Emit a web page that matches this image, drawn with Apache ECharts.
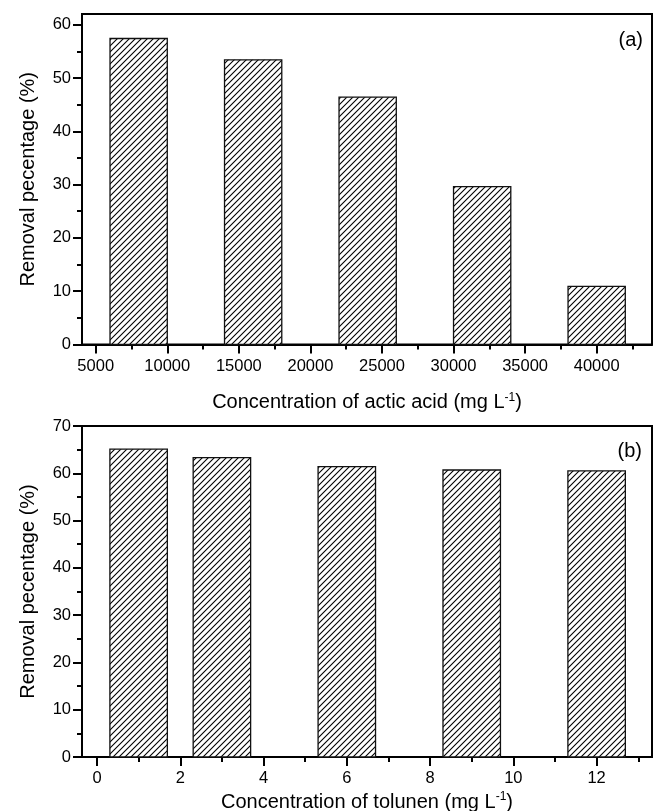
<!DOCTYPE html>
<html>
<head>
<meta charset="utf-8">
<script src="https://cdn.jsdelivr.net/npm/echarts@6/dist/echarts.min.js"></script>
<style>
  html, body { margin: 0; padding: 0; background: #fff; }
  #main { width: 653px; height: 811px; }
</style>
</head>
<body>
<div id="main"></div>
<script>
// (a) acetic acid
var acidConc = [8000, 16000, 24000, 32000, 40000];
var acidRemoval = [57.4, 53.4, 46.4, 29.6, 10.9];
var acidXTicks = [5000, 10000, 15000, 20000, 25000, 30000, 35000, 40000];
var acidXMinor = [7500, 12500, 17500, 22500, 27500, 32500, 37500, 42500];
var acidYTicks = [0, 10, 20, 30, 40, 50, 60];
var acidYMinor = [5, 15, 25, 35, 45, 55];

// (b) toluene
var tolConc = [1, 3, 6, 9, 12];
var tolRemoval = [65.1, 63.3, 61.4, 60.7, 60.5];
var tolXTicks = [0, 2, 4, 6, 8, 10, 12];
var tolXMinor = [1, 3, 5, 7, 9, 11, 13];
var tolYTicks = [0, 10, 20, 30, 40, 50, 60, 70];
var tolYMinor = [5, 15, 25, 35, 45, 55, 65];

var FONT = "'Liberation Sans', Arial, sans-serif";

// hatch pattern  ////
function makeHatch() {
    var s = 6;
    var c = document.createElement('canvas');
    c.width = s; c.height = s;
    var ctx = c.getContext('2d');
    ctx.fillStyle = '#fff';
    ctx.fillRect(0, 0, s, s);
    ctx.strokeStyle = '#000';
    ctx.lineWidth = 1.1;
    ctx.beginPath();
    ctx.moveTo(-1, s + 1); ctx.lineTo(s + 1, -1);
    ctx.moveTo(-1, 1); ctx.lineTo(1, -1);
    ctx.moveTo(s - 1, s + 1); ctx.lineTo(s + 1, s - 1);
    ctx.stroke();
    return c;
}
var hatch = { image: makeHatch(), repeat: 'repeat' };

function barRenderer(barW) {
    return function (params, api) {
        var x = api.value(0), y = api.value(1);
        var p0 = api.coord([x - barW / 2, y]);
        var p1 = api.coord([x + barW / 2, 0]);
        return {
            type: 'rect',
            shape: { x: p0[0], y: p0[1], width: p1[0] - p0[0], height: p1[1] - p0[1] },
            style: { fill: hatch, stroke: '#111', lineWidth: 1.3 }
        };
    };
}

function pairs(xs, ys) {
    return xs.map(function (v, i) { return [v, ys[i]]; });
}
function plain(v) { return String(v); }

var nameStyle = {
    fontFamily: FONT, fontSize: 20, color: '#000',
    rich: { sup: { fontFamily: FONT, fontSize: 12, color: '#000', verticalAlign: 'top', lineHeight: 22 } }
};
var lineStyle = { color: '#000', width: 2 };

function majorX(grid, min, max, ticks, name, gap) {
    return {
        type: 'value', gridIndex: grid, position: 'bottom', min: min, max: max,
        name: name, nameLocation: 'middle', nameGap: gap, nameTextStyle: nameStyle,
        axisLine: { show: true, onZero: false, lineStyle: lineStyle },
        axisTick: { show: true, inside: false, length: 9, lineStyle: lineStyle, customValues: ticks },
        axisLabel: { show: true, margin: 13, customValues: ticks, formatter: plain,
                     fontFamily: FONT, fontSize: 16.5, color: '#000' },
        splitLine: { show: false }
    };
}
function minorX(grid, min, max, ticks) {
    return {
        type: 'value', gridIndex: grid, position: 'bottom', min: min, max: max,
        axisLine: { show: false, onZero: false },
        axisTick: { show: true, length: 5, lineStyle: lineStyle, customValues: ticks },
        axisLabel: { show: false },
        splitLine: { show: false }
    };
}
function majorY(grid, min, max, ticks) {
    return {
        type: 'value', gridIndex: grid, position: 'left', min: min, max: max,
        name: 'Removal pecentage (%)', nameLocation: 'middle', nameGap: 44, nameTextStyle: nameStyle,
        axisLine: { show: true, onZero: false, lineStyle: lineStyle },
        axisTick: { show: true, length: 9, lineStyle: lineStyle, customValues: ticks },
        axisLabel: { show: true, margin: 11, customValues: ticks, formatter: plain,
                     fontFamily: FONT, fontSize: 16.5, color: '#000' },
        splitLine: { show: false }
    };
}
function minorY(grid, min, max, ticks) {
    return {
        type: 'value', gridIndex: grid, position: 'left', min: min, max: max,
        axisLine: { show: false, onZero: false },
        axisTick: { show: true, length: 5, lineStyle: lineStyle, customValues: ticks },
        axisLabel: { show: false },
        splitLine: { show: false }
    };
}

var myChart = echarts.init(document.getElementById('main'), null, { renderer: 'canvas' });

var option = {
    animation: false,
    backgroundColor: '#fff',
    grid: [
        { left: 82, right: 1, top: 14, bottom: 466.5, show: true, borderColor: '#000', borderWidth: 2, outerBoundsMode: 'none' },
        { left: 82, right: 1, top: 426, bottom: 54, show: true, borderColor: '#000', borderWidth: 2, outerBoundsMode: 'none' }
    ],
    xAxis: [
        majorX(0, 4042, 43866, acidXTicks, 'Concentration of actic acid (mg L{sup|-1})', 47),
        minorX(0, 4042, 43866, acidXMinor),
        majorX(1, -0.36, 13.33, tolXTicks, 'Concentration of tolunen (mg L{sup|-1})', 34),
        minorX(1, -0.36, 13.33, tolXMinor)
    ],
    yAxis: [
        majorY(0, 0, 62, acidYTicks),
        minorY(0, 0, 62, acidYMinor),
        majorY(1, 0, 70, tolYTicks),
        minorY(1, 0, 70, tolYMinor)
    ],
    graphic: [
        { type: 'text', right: 10, top: 30, style: { text: '(a)', fontFamily: FONT, fontSize: 20, fill: '#000' } },
        { type: 'text', right: 11, top: 441, style: { text: '(b)', fontFamily: FONT, fontSize: 20, fill: '#000' } }
    ],
    series: [
        {
            type: 'custom', xAxisIndex: 0, yAxisIndex: 0,
            renderItem: barRenderer(4000),
            data: pairs(acidConc, acidRemoval)
        },
        {
            type: 'custom', xAxisIndex: 2, yAxisIndex: 2,
            renderItem: barRenderer(1.38),
            data: pairs(tolConc, tolRemoval)
        }
    ]
};
myChart.setOption(option);
</script>
</body>
</html>
